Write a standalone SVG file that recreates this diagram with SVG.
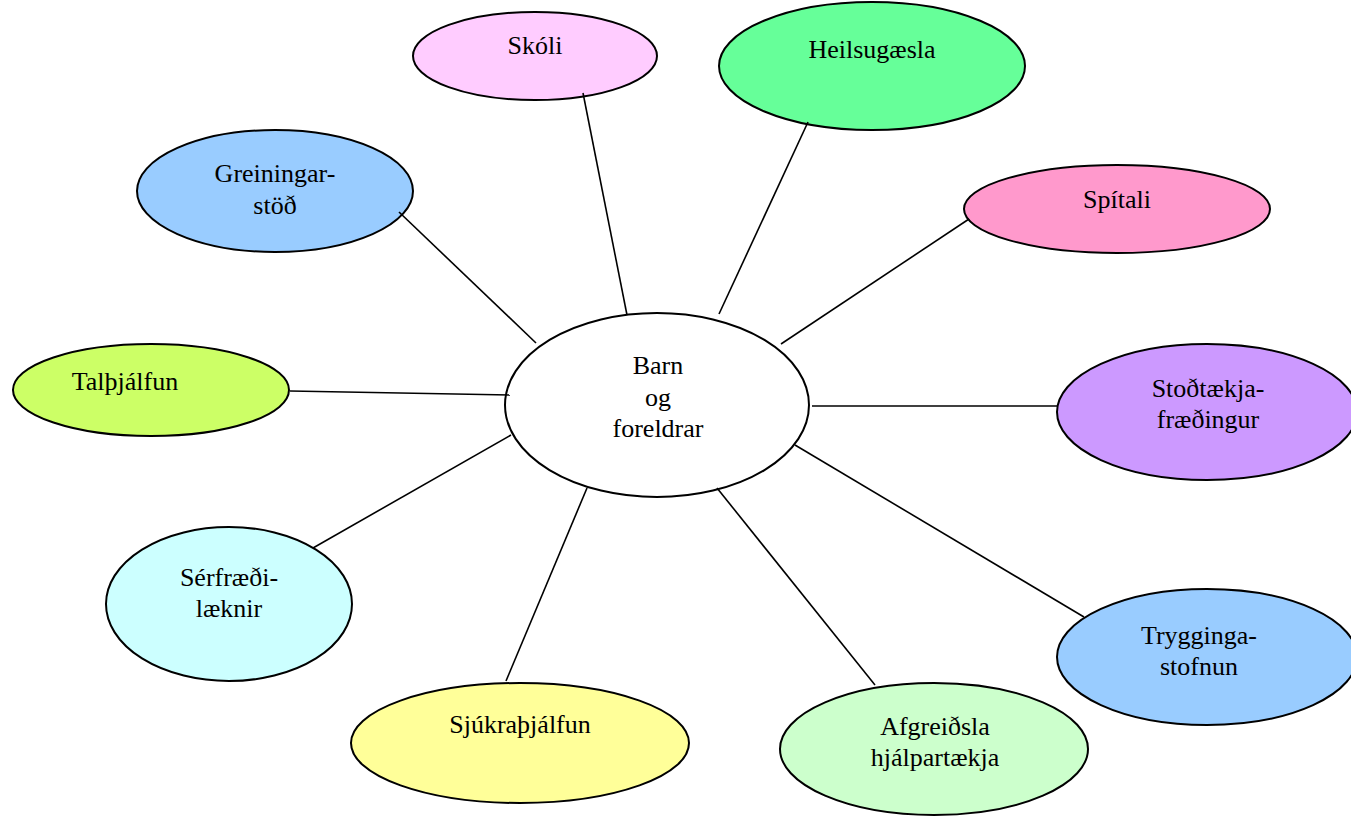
<svg xmlns="http://www.w3.org/2000/svg" width="1351" height="817" viewBox="0 0 1351 817">
<style>
.n{stroke:#000;stroke-width:2}
.t{font-family:"Liberation Serif","Times New Roman",serif;font-size:26px;fill:#000;text-anchor:middle}
.c line{stroke:#000;stroke-width:1.6}
</style>
<rect width="1351" height="817" fill="#fff"/>
<g id="center"><ellipse class="n" cx="657" cy="405" rx="152" ry="92" fill="#fff"/><text class="t" x="658" y="374">Barn</text><text class="t" x="658" y="406">og</text><text class="t" x="658" y="437">foreldrar</text></g>
<g id="skoli"><ellipse class="n" cx="535" cy="56" rx="122" ry="44" fill="#FFCCFF"/><text class="t" x="535" y="54">Skóli</text></g>
<g id="heilsugaesla"><ellipse class="n" cx="872" cy="66" rx="153" ry="64" fill="#66FF99"/><text class="t" x="872" y="58">Heilsugæsla</text></g>
<g id="greiningarstod"><ellipse class="n" cx="275" cy="191" rx="138" ry="61" fill="#99CCFF"/><text class="t" x="275" y="182">Greiningar-</text><text class="t" x="275" y="214">stöð</text></g>
<g id="spitali"><ellipse class="n" cx="1117" cy="209" rx="153" ry="44" fill="#FF99CC"/><text class="t" x="1117" y="208">Spítali</text></g>
<g id="talthjalfun"><ellipse class="n" cx="151" cy="390" rx="138" ry="46" fill="#CCFF66"/><text class="t" x="125" y="390">Talþjálfun</text></g>
<g id="stodtaekja"><ellipse class="n" cx="1207" cy="412" rx="150" ry="68" fill="#CC99FF"/><text class="t" x="1208" y="397">Stoðtækja-</text><text class="t" x="1208" y="428">fræðingur</text></g>
<g id="serfraedi"><ellipse class="n" cx="229" cy="604" rx="123" ry="77" fill="#CCFFFF"/><text class="t" x="229" y="586">Sérfræði-</text><text class="t" x="229" y="617">læknir</text></g>
<g id="sjukrathjalfun"><ellipse class="n" cx="520" cy="743" rx="169" ry="60" fill="#FFFF99"/><text class="t" x="520" y="733">Sjúkraþjálfun</text></g>
<g id="afgreidsla"><ellipse class="n" cx="934" cy="749" rx="154" ry="66" fill="#CCFFCC"/><text class="t" x="935" y="735">Afgreiðsla</text><text class="t" x="935" y="766">hjálpartækja</text></g>
<g id="tryggingastofnun"><ellipse class="n" cx="1207" cy="657" rx="150" ry="68" fill="#99CCFF"/><text class="t" x="1199" y="644">Trygginga-</text><text class="t" x="1199" y="675">stofnun</text></g>
<g id="connectors" class="c">
<line x1="583" y1="93" x2="627" y2="315"/>
<line x1="808" y1="122" x2="719" y2="314"/>
<line x1="399" y1="212" x2="536" y2="343"/>
<line x1="969" y1="219" x2="781" y2="344"/>
<line x1="290" y1="391" x2="510" y2="395"/>
<line x1="812" y1="406" x2="1057" y2="406"/>
<line x1="313" y1="548" x2="511" y2="435"/>
<line x1="506" y1="681" x2="587" y2="488"/>
<line x1="875" y1="685" x2="717" y2="488"/>
<line x1="1084" y1="617" x2="795" y2="445"/>
</g>
</svg>
